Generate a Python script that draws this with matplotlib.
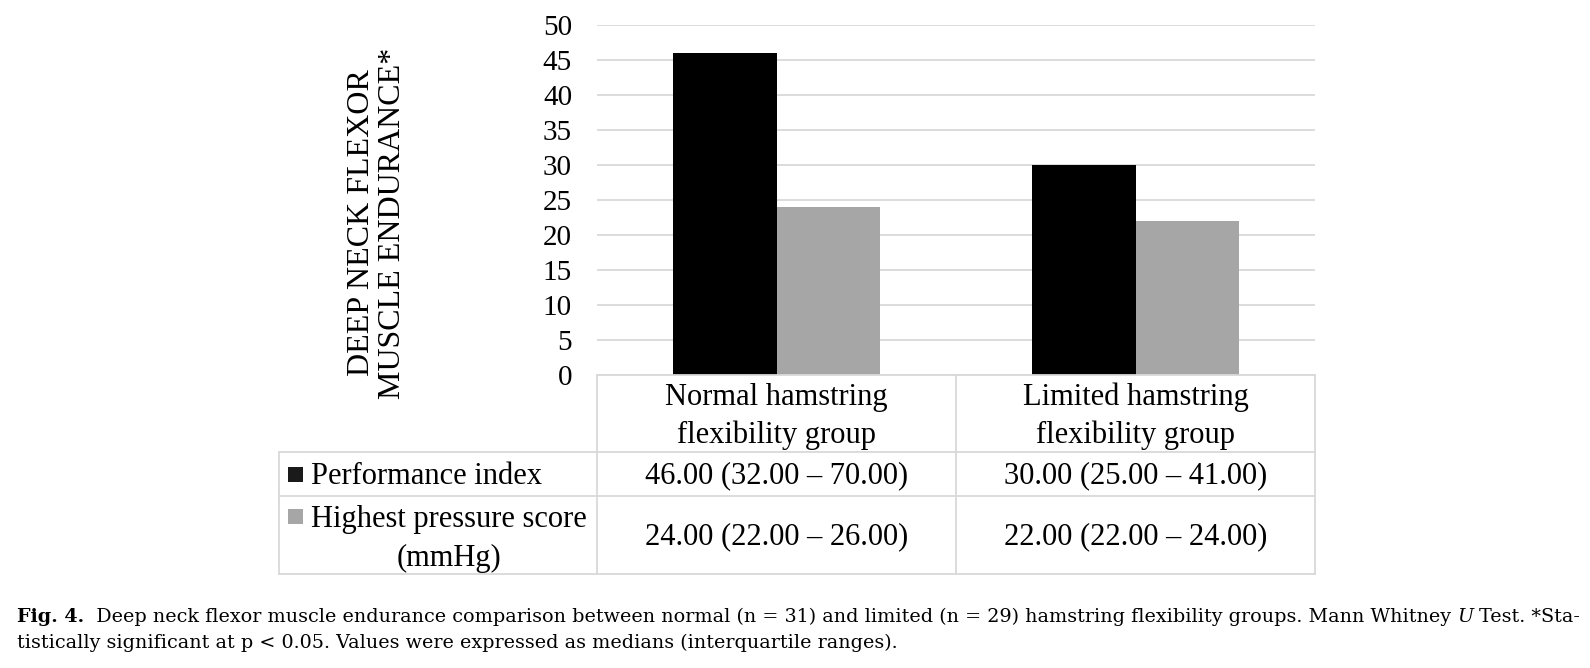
import matplotlib
matplotlib.use("Agg")
import matplotlib.pyplot as plt
from matplotlib.patches import Rectangle

# ---- data ----
categories = ["Normal hamstring\nflexibility group", "Limited hamstring\nflexibility group"]
series_names = ["Performance index", "Highest pressure score", "(mmHg)"]
performance_index = [46, 30]
highest_pressure = [24, 22]
table_perf = ["46.00 (32.00 \u2013 70.00)", "30.00 (25.00 \u2013 41.00)"]
table_press = ["24.00 (22.00 \u2013 26.00)", "22.00 (22.00 \u2013 24.00)"]
y_ticks = [0, 5, 10, 15, 20, 25, 30, 35, 40, 45, 50]
y_label = "DEEP NECK FLEXOR\nMUSCLE ENDURANCE*"

W, H = 1590, 668
DPI = 100
SERIF = ["Liberation Serif", "DejaVu Serif"]
FS = 22
GRID = "#D9D9D9"
C_BLACK = "#000000"
C_GRAY = "#A6A6A6"

fig = plt.figure(figsize=(W / DPI, H / DPI), dpi=DPI)
fig.patch.set_facecolor("white")

# plot area in pixels
px_l, px_r, px_t, px_b = 597, 1315, 25, 375
ax = fig.add_axes([px_l / W, 1 - px_b / H, (px_r - px_l) / W, (px_b - px_t) / H])
x = [0, 1]
bw = 0.287
ax.bar([i - bw / 2 for i in x], performance_index, width=bw, color=C_BLACK, zorder=3)
ax.bar([i + bw / 2 for i in x], highest_pressure, width=bw, color=C_GRAY, zorder=3)
ax.set_xlim(-0.5, 1.5)
ax.set_ylim(0, 50)
ax.set_yticks(y_ticks)
ax.set_yticklabels([str(v) for v in y_ticks], fontfamily=SERIF, fontsize=21)
ax.tick_params(axis="y", length=0, pad=18)
ax.set_xticks([])
for s in ax.spines.values():
    s.set_visible(False)
ax.yaxis.grid(True, color=GRID, linewidth=1.3, zorder=0)
ax.set_axisbelow(True)
ax.patch.set_alpha(0)

# overlay in pixel coordinates
ov = fig.add_axes([0, 0, 1, 1])
ov.set_xlim(0, W)
ov.set_ylim(H, 0)
ov.axis("off")
ov.patch.set_alpha(0)

# y label
ov.text(377, 223, y_label, rotation=90, ha="center", va="center",
        fontfamily=SERIF, fontsize=FS + 1, linespacing=1.05, multialignment="center")

# table grid
tl, tc1, tc2, tr = 279, px_l, 956, px_r
r0, r1, r2, r3 = 375, 452, 496, 574
lw = 1.3
ov.plot([tc1, tr], [r0, r0], color=GRID, lw=lw)
for yy in (r1, r2, r3):
    ov.plot([tl, tr], [yy, yy], color=GRID, lw=lw)
ov.plot([tl, tl], [r1, r3], color=GRID, lw=lw)
for xx in (tc1, tc2, tr):
    ov.plot([xx, xx], [r0, r3], color=GRID, lw=lw)

col_centers = [(tc1 + tc2) / 2, (tc2 + tr) / 2]
for cx, cat in zip(col_centers, categories):
    ov.text(cx, (r0 + r1) / 2 + 3, cat, ha="center", va="center", multialignment="center",
            fontfamily=SERIF, fontsize=FS, linespacing=1.36)
for cx, v in zip(col_centers, table_perf):
    ov.text(cx, (r1 + r2) / 2 + 2, v, ha="center", va="center", fontfamily=SERIF, fontsize=FS)
for cx, v in zip(col_centers, table_press):
    ov.text(cx, (r2 + r3) / 2 + 2, v, ha="center", va="center", fontfamily=SERIF, fontsize=FS)

renderer = fig.canvas.get_renderer()

# legend keys in table
ov.add_patch(Rectangle((288, 467), 15, 15, facecolor="#1A1A1A", edgecolor="none"))
ov.add_patch(Rectangle((288, 509), 15, 15, facecolor=C_GRAY, edgecolor="none"))
ov.text(311, (r1 + r2) / 2 + 2, series_names[0], ha="left", va="center", fontfamily=SERIF, fontsize=FS)
t_hp = ov.text(311, 519, series_names[1], ha="left", va="center", fontfamily=SERIF, fontsize=FS)
bb = t_hp.get_window_extent(renderer=renderer)
hp_center = 311 + bb.width / 2
ov.text(hp_center, 558, series_names[2], ha="center", va="center", fontfamily=SERIF, fontsize=FS)

# caption
cap_font = ["DejaVu Serif"]
cap_fs = 13.75

def put_pieces(x0, y0, pieces):
    xx = x0
    for txt, weight, style in pieces:
        t = ov.text(xx, y0, txt, ha="left", va="baseline", fontfamily=cap_font,
                    fontsize=cap_fs, fontweight=weight, fontstyle=style)
        b = t.get_window_extent(renderer=renderer)
        xx += b.width
    return xx

line1 = [("Fig. 4.", "bold", "normal"),
         ("  Deep neck flexor muscle endurance comparison between normal (n = 31) and limited (n = 29) hamstring flexibility groups. Mann Whitney ", "normal", "normal"),
         ("U", "normal", "italic"),
         (" Test. *Sta-", "normal", "normal")]
line2 = [("tistically significant at p < 0.05. Values were expressed as medians (interquartile ranges).", "normal", "normal")]
put_pieces(17, 622, line1)
put_pieces(17, 648, line2)

fig.savefig("out.png", dpi=DPI, facecolor="white")
